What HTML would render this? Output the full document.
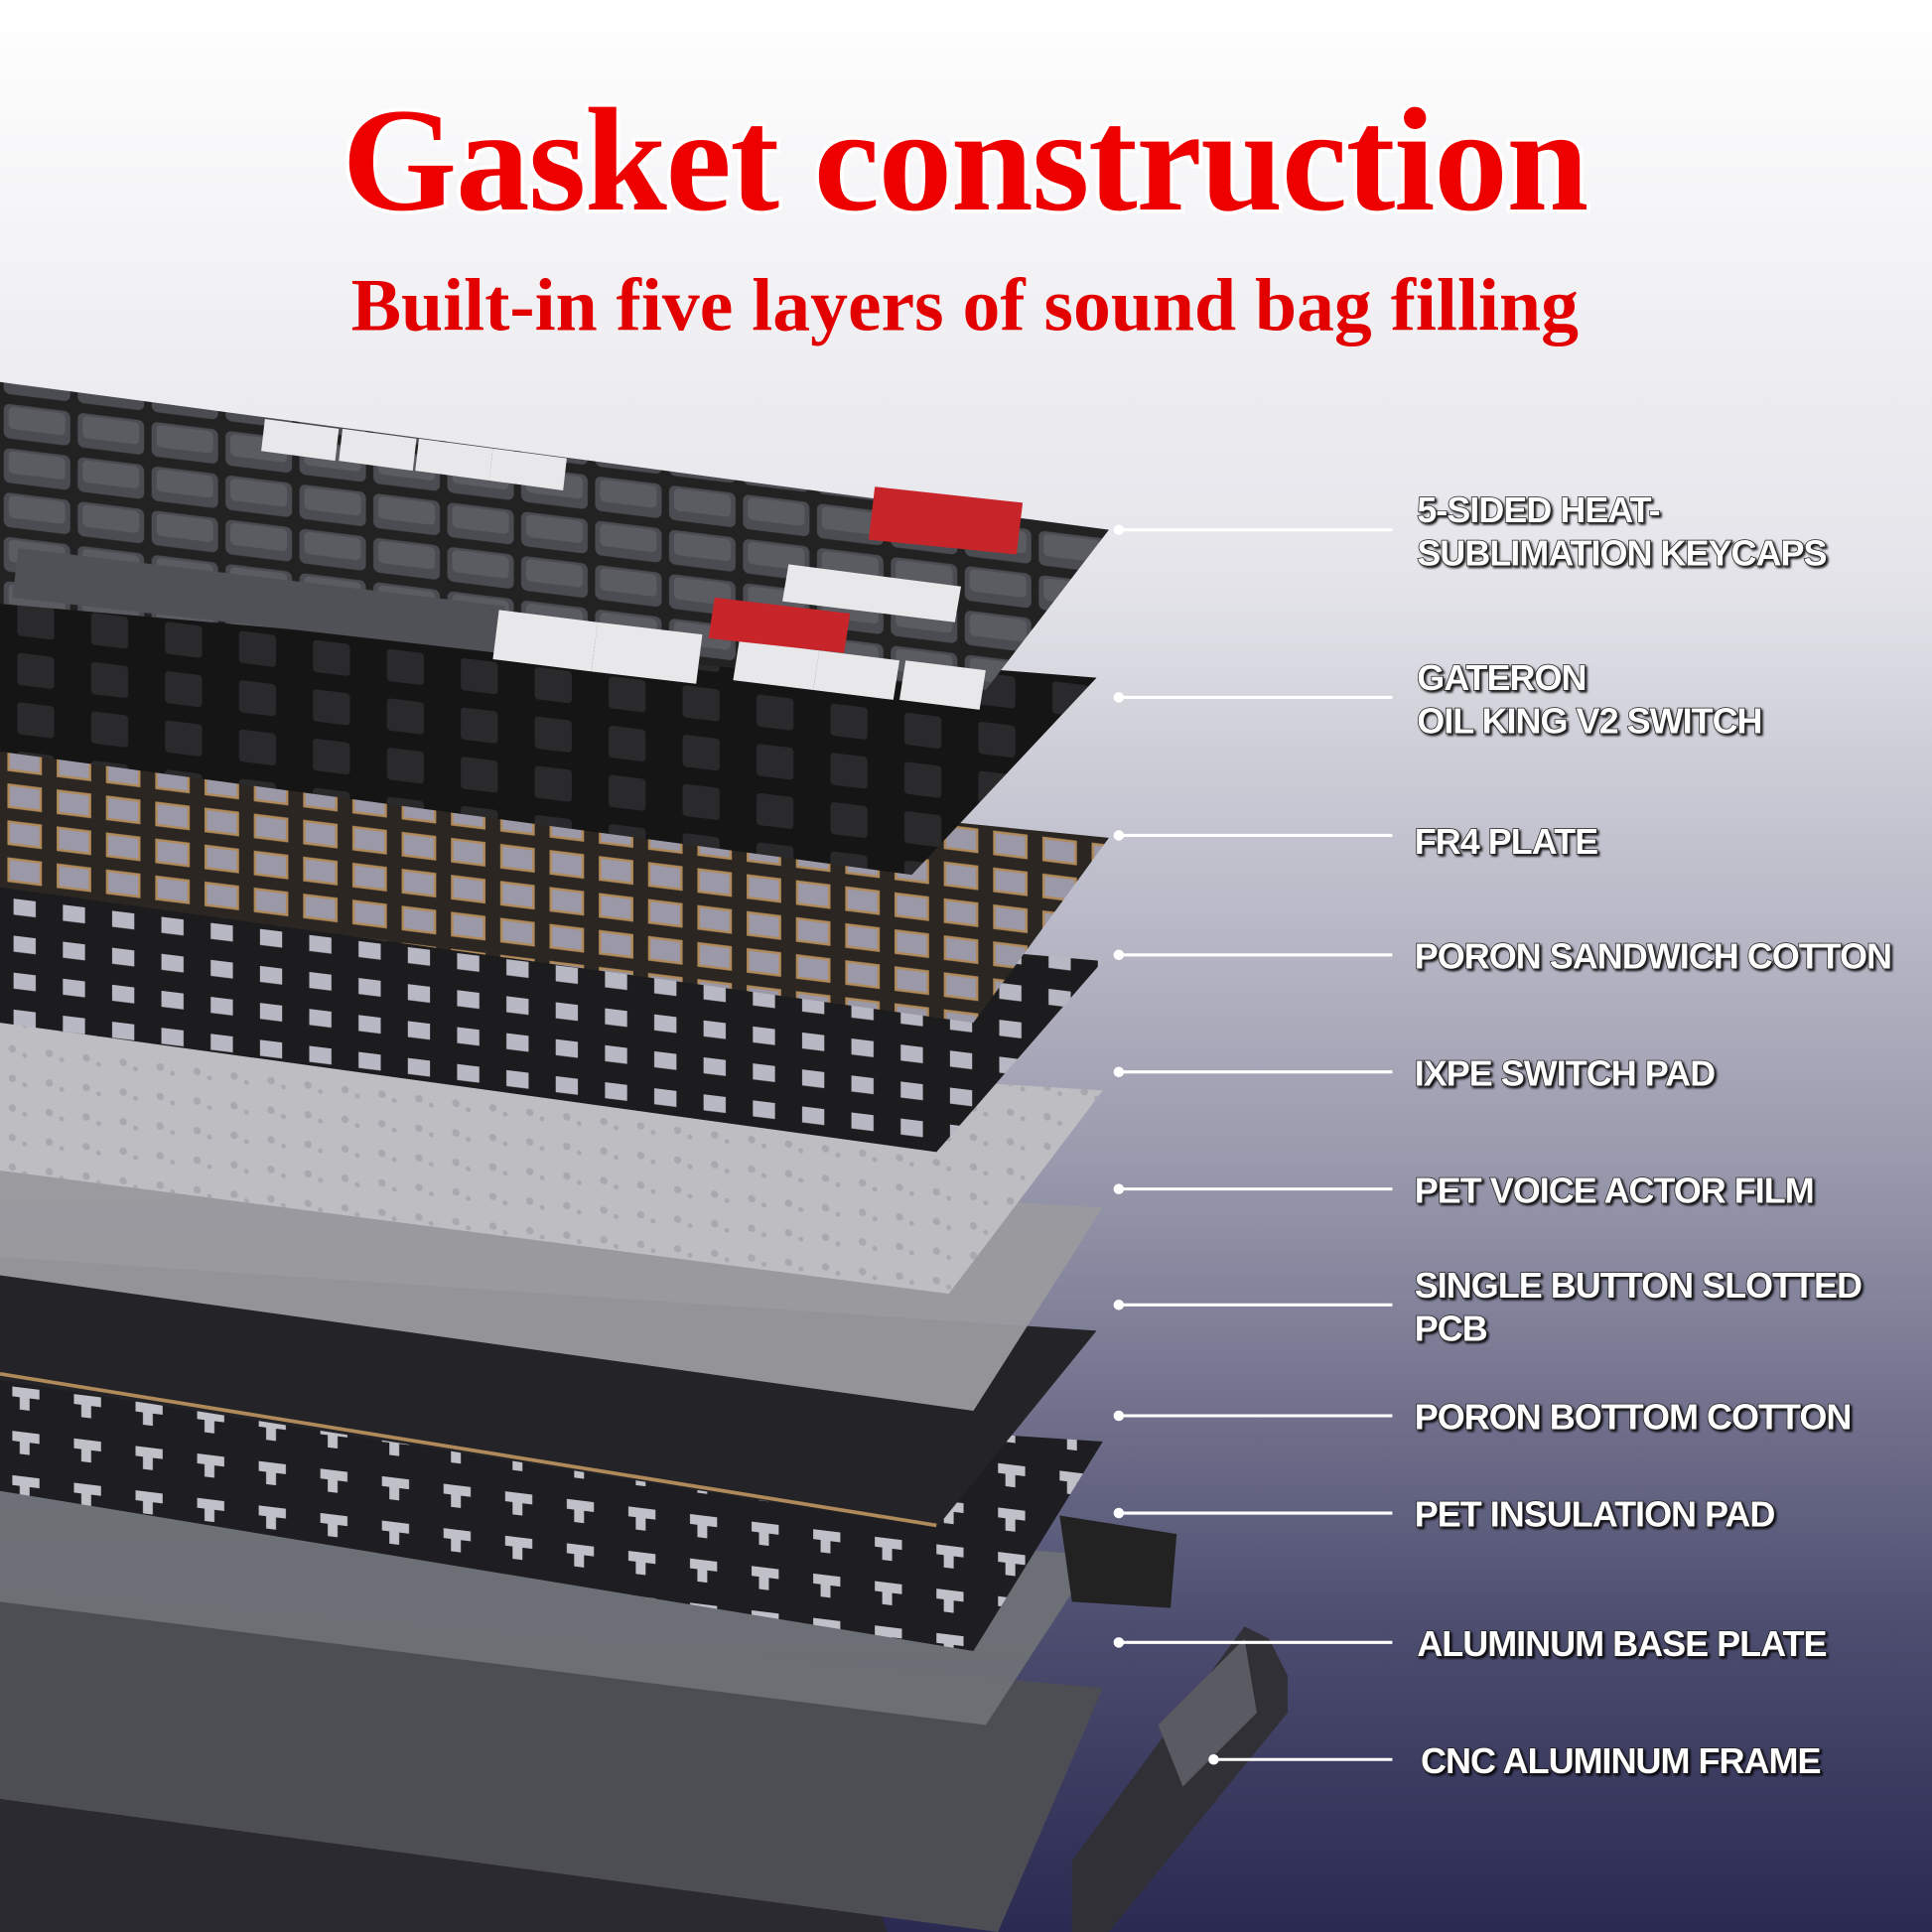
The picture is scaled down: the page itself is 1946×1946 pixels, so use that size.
<!DOCTYPE html>
<html><head><meta charset="utf-8"><style>
html,body{margin:0;padding:0;width:1946px;height:1946px;overflow:hidden}
svg{display:block}
.lbl{font-family:"Liberation Sans",sans-serif;font-weight:bold;font-size:29px;fill:#fff;stroke:#222;stroke-width:1.2px;paint-order:stroke;letter-spacing:-0.8px;filter:url(#sh)}
</style></head><body>
<svg width="1946" height="1946" viewBox="0 0 1568 1568" xmlns="http://www.w3.org/2000/svg">
<defs>
<filter id="sh" x="-5%" y="-20%" width="110%" height="140%"><feDropShadow dx="1.5" dy="1.5" stdDeviation="0.8" flood-color="#000" flood-opacity="0.9"/></filter>
<linearGradient id="bg" x1="0" y1="0" x2="0" y2="1">
<stop offset="0" stop-color="#ffffff"/>
<stop offset="0.3" stop-color="#e4e4ea"/>
<stop offset="0.6" stop-color="#9a9aae"/>
<stop offset="0.85" stop-color="#4b4b6e"/>
<stop offset="1" stop-color="#2a2a52"/>
</linearGradient>
<pattern id="holes" width="40" height="30" patternUnits="userSpaceOnUse" patternTransform="skewY(7)">
<rect width="40" height="30" fill="#1c1c1e"/><rect x="11" y="8" width="18" height="13" fill="#b8b8c4"/>
</pattern>
<pattern id="fr4" width="40" height="30" patternUnits="userSpaceOnUse" patternTransform="skewY(7)">
<rect width="40" height="30" fill="#2b2621"/><rect x="7" y="6" width="26" height="18" fill="#9b98a8" stroke="#b08a5a" stroke-width="2"/>
</pattern>
<pattern id="bot" width="50" height="36" patternUnits="userSpaceOnUse" patternTransform="skewY(7)">
<rect width="50" height="36" fill="#1e1e22"/><path d="M10 8h22v8h-8v10h-8v-10h-6z" fill="#c0c0c8"/>
</pattern>
<pattern id="keys" width="60" height="36" patternUnits="userSpaceOnUse" patternTransform="skewY(7)">
<rect width="60" height="36" fill="#222"/><rect x="3" y="3" width="54" height="28" rx="5" fill="#4a4c52"/><rect x="7" y="5" width="46" height="18" rx="4" fill="#5a5c62"/>
</pattern>
<pattern id="sw" width="60" height="40" patternUnits="userSpaceOnUse" patternTransform="skewY(7)">
<rect width="60" height="40" fill="#151515"/><rect x="14" y="8" width="30" height="26" rx="3" fill="#2a2a2c"/>
</pattern>
<pattern id="dots" width="30" height="24" patternUnits="userSpaceOnUse" patternTransform="skewY(7)">
<rect width="30" height="24" fill="#bdbdc2"/><circle cx="10" cy="10" r="3" fill="#a8a8ae"/><circle cx="20" cy="14" r="2" fill="#a8a8ae"/>
</pattern>
</defs>
<rect width="1568" height="1568" fill="url(#bg)"/>

<polygon points="0,1430 700,1510 720,1568 0,1568" fill="#2a2a30"/>
<polygon points="870,1510 1010,1320 1030,1330 1045,1360 1045,1390 900,1568 870,1568" fill="#303036"/>
<polygon points="940,1400 1010,1330 1020,1390 960,1450" fill="#5a5a62"/>
<polygon points="0,1290 895,1370 810,1568 0,1460" fill="#4c4e54"/>
<polygon points="0,1200 890,1262 800,1400 0,1300" fill="#6e7276" opacity="0.95"/>
<polygon points="860,1230 955,1245 950,1305 870,1300" fill="#222"/>
<polygon points="0,1110 895,1170 790,1340 0,1210" fill="url(#bot)"/>
<polygon points="0,1020 890,1080 760,1240 0,1120" fill="#242428"/>
<polyline points="0,1115 760,1238" stroke="#b08a5a" stroke-width="3" fill="none"/>
<polygon points="0,930 895,980 790,1145 0,1035" fill="#9a9a9e" opacity="0.95"/>
<polygon points="0,830 895,885 770,1050 0,950" fill="url(#dots)"/>
<polygon points="0,700 895,780 760,935 0,830" fill="url(#holes)"/>
<polygon points="0,590 900,680 790,830 0,720" fill="url(#fr4)"/>
<polygon points="0,480 890,550 740,710 0,610" fill="url(#sw)"/>
<polygon points="0,310 900,430 800,560 0,490" fill="url(#keys)"/>
<polygon points="15,445 410,492 405,530 10,485" fill="#4f5156"/>
<g fill="#e8e8ea">
<polygon points="215,340 275,348 272,374 212,366"/><polygon points="278,348 338,356 335,382 275,374"/>
<polygon points="340,356 400,364 397,390 337,382"/><polygon points="400,364 460,372 457,398 397,390"/>
<polygon points="405,495 485,505 480,545 400,535"/><polygon points="485,505 570,515 565,555 480,545"/>
<polygon points="600,520 665,528 660,560 595,552"/><polygon points="665,528 730,536 725,568 660,560"/>
<polygon points="735,536 800,544 795,576 730,568"/><polygon points="640,458 780,476 775,505 635,488"/>
</g>
<g fill="#c8252a">
<polygon points="710,395 830,408 825,450 705,438"/><polygon points="580,485 690,498 685,530 575,518"/>
</g>

<text x="783" y="170" text-anchor="middle" font-family="'Liberation Serif',serif" font-weight="bold" font-size="120" fill="#ee0000" stroke="#fff" stroke-width="6" paint-order="stroke" letter-spacing="-1">Gasket construction</text>
<text x="783" y="268" text-anchor="middle" font-family="'Liberation Serif',serif" font-weight="bold" font-size="61" fill="#e20000">Built-in five layers of sound bag filling</text>

<g stroke="#fff" stroke-width="2.5" fill="#fff">
<line x1="908" y1="430" x2="1130" y2="430"/><circle cx="908" cy="430" r="3"/>
<line x1="908" y1="566" x2="1130" y2="566"/><circle cx="908" cy="566" r="3"/>
<line x1="908" y1="678" x2="1130" y2="678"/><circle cx="908" cy="678" r="3"/>
<line x1="908" y1="775" x2="1130" y2="775"/><circle cx="908" cy="775" r="3"/>
<line x1="908" y1="870" x2="1130" y2="870"/><circle cx="908" cy="870" r="3"/>
<line x1="908" y1="965" x2="1130" y2="965"/><circle cx="908" cy="965" r="3"/>
<line x1="908" y1="1059" x2="1130" y2="1059"/><circle cx="908" cy="1059" r="3"/>
<line x1="908" y1="1149" x2="1130" y2="1149"/><circle cx="908" cy="1149" r="3"/>
<line x1="908" y1="1228" x2="1130" y2="1228"/><circle cx="908" cy="1228" r="3"/>
<line x1="908" y1="1333" x2="1130" y2="1333"/><circle cx="908" cy="1333" r="3"/>
<line x1="985" y1="1428" x2="1130" y2="1428"/><circle cx="985" cy="1428" r="3"/>
</g>
<g class="lbl">
<text x="1150" y="424">5-SIDED HEAT-</text><text x="1150" y="459">SUBLIMATION KEYCAPS</text>
<text x="1150" y="560">GATERON</text><text x="1150" y="595">OIL KING V2 SWITCH</text>
<text x="1148" y="693">FR4 PLATE</text>
<text x="1148" y="786">PORON SANDWICH COTTON</text>
<text x="1148" y="881">IXPE SWITCH PAD</text>
<text x="1148" y="976">PET VOICE ACTOR FILM</text>
<text x="1148" y="1053">SINGLE BUTTON SLOTTED</text><text x="1148" y="1088">PCB</text>
<text x="1148" y="1160">PORON BOTTOM COTTON</text>
<text x="1148" y="1239">PET INSULATION PAD</text>
<text x="1150" y="1344">ALUMINUM BASE PLATE</text>
<text x="1153" y="1439">CNC ALUMINUM FRAME</text>
</g>
</svg>
</body></html>
